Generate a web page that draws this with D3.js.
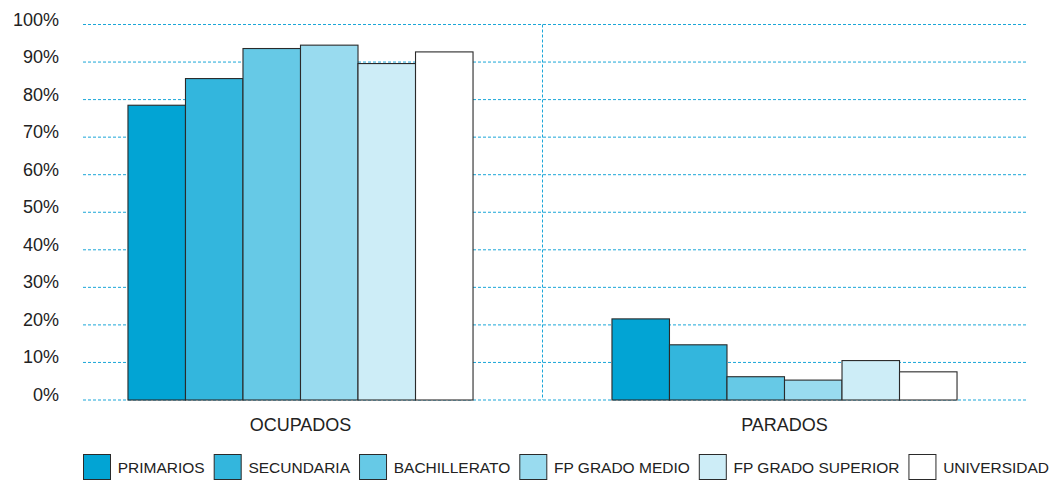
<!DOCTYPE html>
<html>
<head>
<meta charset="utf-8">
<script src="https://cdn.jsdelivr.net/npm/d3@7"></script>
<style>
  body { margin: 0; background: #fff; }
  svg { display: block; font-family: "Liberation Sans", Arial, Helvetica, sans-serif; }
</style>
</head>
<body>
<svg id="chart" width="1050" height="480"></svg>
<script>
const categories = ["OCUPADOS", "PARADOS"];
const seriesNames = ["PRIMARIOS", "SECUNDARIA", "BACHILLERATO", "FP GRADO MEDIO", "FP GRADO SUPERIOR", "UNIVERSIDAD"];
const seriesColors = ["#02a4d4", "#33b6dd", "#66c9e6", "#99dbef", "#cdedf7", "#ffffff"];
const ocupados = [78.5, 85.6, 93.6, 94.5, 89.6, 92.7];
const parados = [21.6, 14.7, 6.2, 5.3, 10.5, 7.5];
const yTicks = [0, 10, 20, 30, 40, 50, 60, 70, 80, 90, 100];

const values = [ocupados, parados];
const svg = d3.select("#chart");

const gridLeft = 83, right = 1028;
const x0 = d3.scaleBand().domain(categories).range([58.5, 1026.5]).paddingInner(0).paddingOuter(0);
const x1 = d3.scaleBand().domain(seriesNames).range([0, x0.bandwidth()]).paddingOuter(1.208).paddingInner(0);
const y = d3.scaleLinear().domain([0, 100]).range([400, 24.5]);

// grid lines
svg.append("g").selectAll("line").data(yTicks).join("line")
  .attr("x1", gridLeft).attr("x2", right)
  .attr("y1", d => y(d)).attr("y2", d => y(d))
  .attr("stroke", "#1aa6d8").attr("stroke-width", 1)
  .attr("stroke-dasharray", "3,2");

// vertical divider
svg.append("line")
  .attr("x1", x0("PARADOS")).attr("x2", x0("PARADOS"))
  .attr("y1", y(100)).attr("y2", y(0))
  .attr("stroke", "#1aa6d8").attr("stroke-width", 1)
  .attr("stroke-dasharray", "3,2");

// y axis labels
const yAxis = d3.axisLeft(y).tickValues(yTicks).tickFormat(d => d + "%").tickSize(0).tickPadding(0);
const ya = svg.append("g").attr("transform", "translate(59,0)").call(yAxis);
ya.select(".domain").remove();
ya.selectAll("text").attr("font-size", 18).attr("fill", "#222").attr("dy", "0").attr("y", 0.5)
  .attr("font-family", "'Liberation Sans', Arial, sans-serif");

// bars
categories.forEach((cat, ci) => {
  const g = svg.append("g").attr("transform", `translate(${x0(cat)},0)`);
  g.selectAll("rect").data(seriesNames.map((s, i) => ({ s, v: values[ci][i], c: seriesColors[i] })))
    .join("rect")
    .attr("x", d => x1(d.s))
    .attr("y", d => y(d.v))
    .attr("width", x1.bandwidth())
    .attr("height", d => y(0) - y(d.v))
    .attr("fill", d => d.c)
    .attr("stroke", "#2a2a2a")
    .attr("stroke-width", 1.1);
});

// x axis labels
const xAxis = d3.axisBottom(x0).tickSize(0).tickPadding(0);
const xa = svg.append("g").attr("transform", "translate(0,431)").call(xAxis);
xa.select(".domain").remove();
xa.selectAll("text").attr("font-size", 18).attr("fill", "#222").attr("dy", "0").attr("y", 0)
  .attr("font-family", "'Liberation Sans', Arial, sans-serif");

// legend
const legend = svg.append("g");
let lx = 83;
seriesNames.forEach((s, i) => {
  legend.append("rect")
    .attr("x", lx + 0.5).attr("y", 454.5).attr("width", 27).attr("height", 25)
    .attr("fill", seriesColors[i]).attr("stroke", "#2a2a2a").attr("stroke-width", 1);
  const t = legend.append("text")
    .attr("x", lx + 34.7).attr("y", 473.3)
    .attr("font-size", 15.5).attr("fill", "#222").text(s);
  const w = t.node().getComputedTextLength();
  lx = lx + 34.7 + w + 9;
});
</script>
</body>
</html>
